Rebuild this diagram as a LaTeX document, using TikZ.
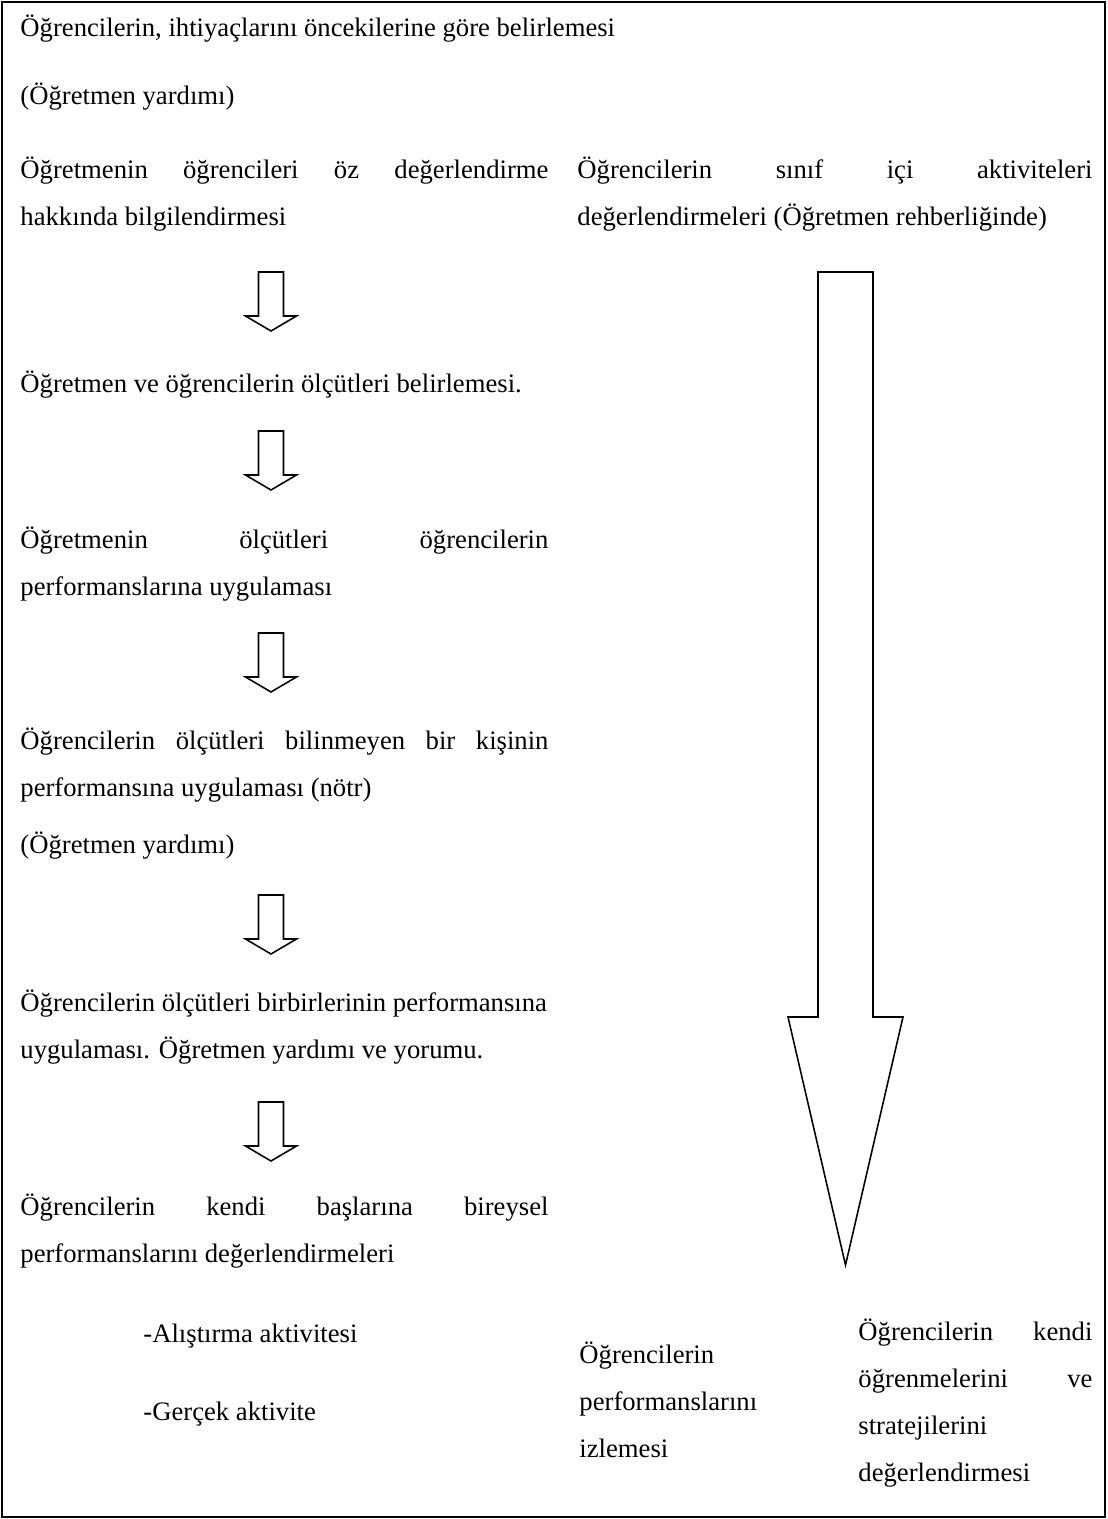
\documentclass[tikz,border=0pt]{standalone}
\usepackage{fontspec}
\setmainfont{Liberation Serif}
\usepackage{tikz}
\usetikzlibrary{calc, positioning}
\newlength{\leftcolw}\setlength{\leftcolw}{237.6pt}
\newlength{\rightcolw}\setlength{\rightcolw}{231.8pt}
\newlength{\smallcolw}\setlength{\smallcolw}{105.3pt}
\newcommand{\fullline}[2]{\makebox[#1][s]{#2}}
\newcommand{\blockdown}[1]{%
	\draw[arrowline] (#1) ++(-12.5,0) -- ++(0,44) -- ++(-13,0) -- ++(25.5,15) -- ++(25.5,-15) -- ++(-13,0) -- ++(0,-44) -- cycle;}

\begin{document}
\begin{tikzpicture}[
		x=0.45pt, y=-0.45pt,
		celltext/.style = {anchor=base west, inner sep=0pt, align=left, font=\fontsize{12}{21.15}\selectfont},
		frameline/.style = {draw=black, line width=0.9pt},
		arrowline/.style = {draw=black, line width=0.7pt, line join=miter}
		]
		\useasboundingbox (0,0) rectangle (1107,1519);
		\draw[frameline] (2,2) rectangle (1105,1517);
		
		% left column (multi-line nodes sit on their last baseline)
		\node[celltext] (needs) at (20,37) {Öğrencilerin, ihtiyaçlarını öncekilerine göre belirlemesi};
		\node[celltext] (help1) at (20,105) {(Öğretmen yardımı)};
		\node[celltext] (inform) at (20,226) {\fullline{\leftcolw}{Öğretmenin öğrencileri öz değerlendirme}\\hakkında bilgilendirmesi};
		\node[celltext] (criteria) at (20,392) {Öğretmen ve öğrencilerin ölçütleri belirlemesi.};
		\node[celltext] (apply) at (20,595) {\fullline{\leftcolw}{Öğretmenin ölçütleri öğrencilerin}\\performanslarına uygulaması};
		\node[celltext] (neutral) at (20,796) {\fullline{\leftcolw}{Öğrencilerin ölçütleri bilinmeyen bir kişinin}\\performansına uygulaması (nötr)};
		\node[celltext] (help2) at (20,853) {(Öğretmen yardımı)};
		\node[celltext] (peer) at (20,1058) {Öğrencilerin ölçütleri birbirlerinin performansına\\uygulaması. Öğretmen yardımı ve yorumu.};
		\node[celltext] (self) at (20,1262) {\fullline{\leftcolw}{Öğrencilerin kendi başlarına bireysel}\\performanslarını değerlendirmeleri};
		\node[celltext] (drill) at (143,1342) {-Alıştırma aktivitesi};
		\node[celltext] (real) at (143,1420) {-Gerçek aktivite};
		
		% right column
		\node[celltext] (classwork) at (577,226) {\fullline{\rightcolw}{Öğrencilerin sınıf içi aktiviteleri}\\değerlendirmeleri (Öğretmen rehberliğinde)};
		\node[celltext] (monitor) at (579,1457) {Öğrencilerin\\performanslarını\\izlemesi};
		\node[celltext] (reflect) at (858,1481) {\fullline{\smallcolw}{Öğrencilerin kendi}\\\fullline{\smallcolw}{öğrenmelerini ve}\\stratejilerini\\değerlendirmesi};
		
		% block arrows
		\coordinate (a1) at (271,272);
		\coordinate (a2) at (271,431);
		\coordinate (a3) at (271,633);
		\coordinate (a4) at (271,895);
		\coordinate (a5) at (271,1102);
		\blockdown{a1}
		\blockdown{a2}
		\blockdown{a3}
		\blockdown{a4}
		\blockdown{a5}
		
		\coordinate (big) at (845.5,272);
		\draw[arrowline] (big) ++(-27.5,0) -- ++(0,745) -- ++(-30,0) -- ++(57.5,248) -- ++(57.5,-248) -- ++(-30,0) -- ++(0,-745) -- cycle;
		
		\end{tikzpicture}
\end{document}
